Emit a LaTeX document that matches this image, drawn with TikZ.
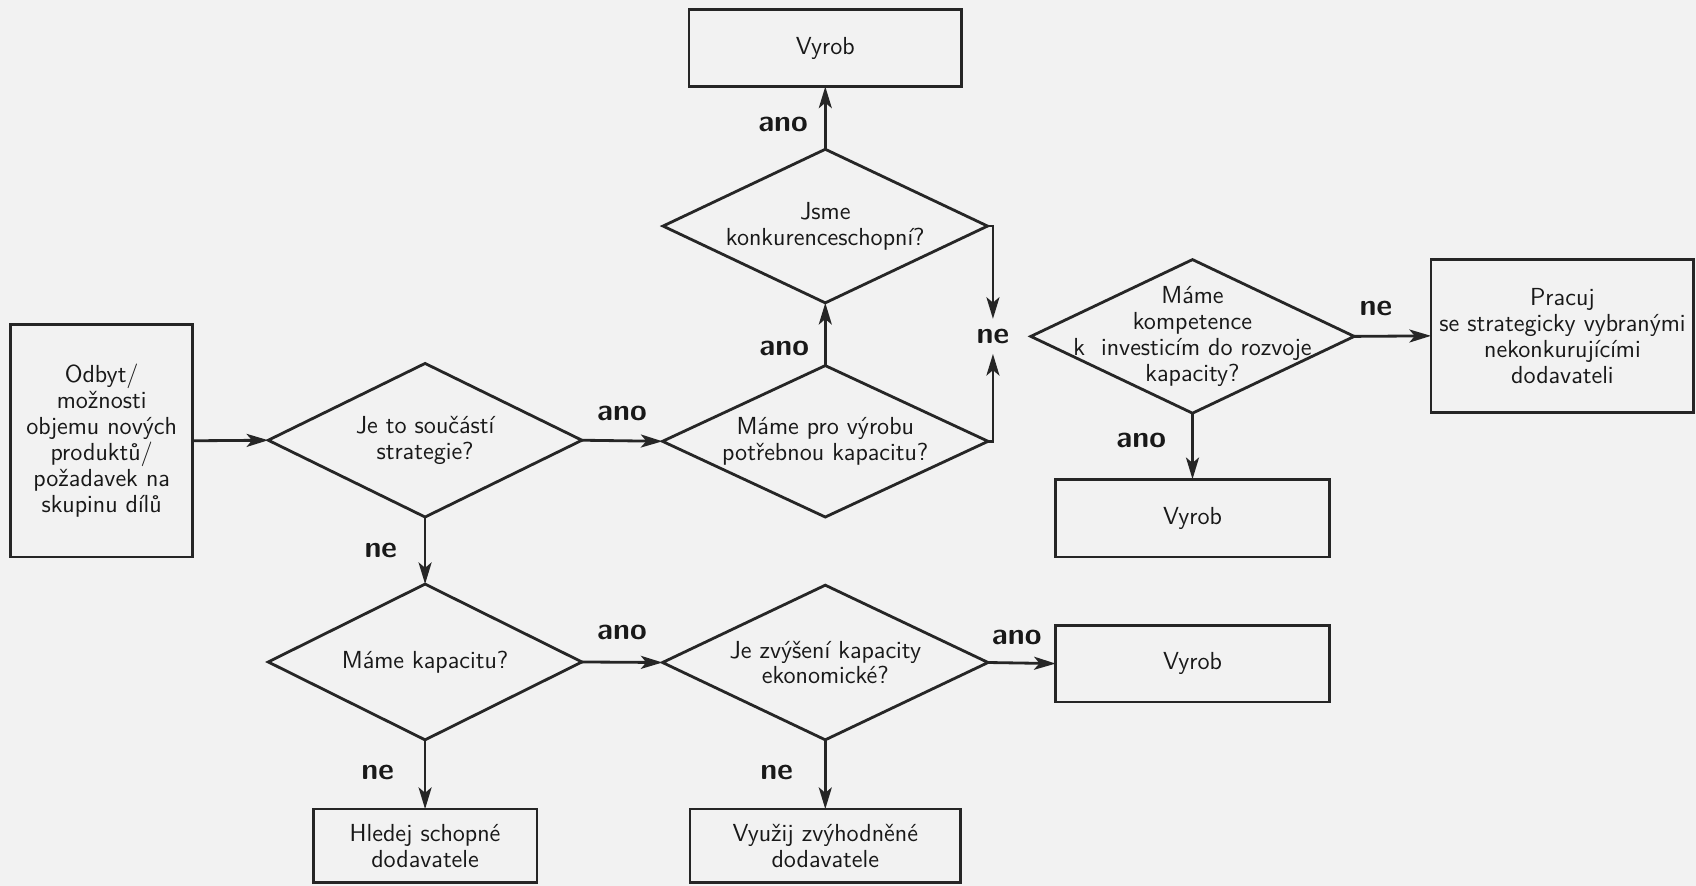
\documentclass[tikz,border=0pt]{standalone}
\usetikzlibrary{shapes.geometric,arrows.meta}
\newcommand\mytxt{\fontsize{11.4}{12}\sffamily\selectfont}
\newcommand\mylab{\fontsize{14}{15}\fontseries{bx}\sffamily\selectfont}
\begin{document}
\begin{tikzpicture}[x=0.5pt,y=-0.5pt,
  ln/.style={draw=black!85, line width=1.3pt},
  box/.style={ln, rectangle, inner sep=0pt, outer sep=0pt, align=center, font=\mytxt, text=black!90},
  dia/.style={ln, diamond, inner sep=0pt, outer sep=0pt},
  dtext/.style={align=center, font=\mytxt, inner sep=0pt, text=black!90},
  lab/.style={font=\mylab, inner sep=0pt, text=black!90},
  arr/.style={draw=black!85, line width=1.3pt, -{Stealth[length=10pt,width=6pt,inset=2.5pt]}}]
\fill[black!5] (0,0) rectangle (1568,819);
\useasboundingbox (0,0) rectangle (1568,819);

% boxes
\node[box, minimum width=84pt, minimum height=107.5pt] (src) at (94,407.5)
  {Odbyt/\\možnosti\\objemu nových\\produktů/\\požadavek na\\skupinu dílů};
\node[box, minimum width=126pt, minimum height=35.5pt] (vyrob1) at (763,44.5) {Vyrob};
\node[box, minimum width=121.5pt, minimum height=70.5pt] (pracuj) at (1444.5,310.5)
  {Pracuj\\se strategicky vybranými\\nekonkurujícími\\dodavateli};
\node[box, minimum width=126.5pt, minimum height=36pt] (vyrob2) at (1102.5,479) {Vyrob};
\node[box, minimum width=126.5pt, minimum height=35.5pt] (vyrob3) at (1102.5,613.5) {Vyrob};
\node[box, minimum width=103.5pt, minimum height=34pt] (hledej) at (393,782) {Hledej schopné\\dodavatele};
\node[box, minimum width=125pt, minimum height=34pt] (vyuzij) at (763,782) {Využij zvýhodněné\\dodavatele};

% diamonds
\node[dia, minimum width=145pt, minimum height=71pt] (d1) at (393,407) {};
\node[dtext] (d1t) at (d1) {Je to součástí\\strategie?};
\node[dia, minimum width=150.5pt, minimum height=70pt] (dkap) at (763,408) {};
\node[dtext] (dkapt) at (dkap) {Máme pro výrobu\\potřebnou kapacitu?};
\node[dia, minimum width=150pt, minimum height=71pt] (djsme) at (763,209) {};
\node[dtext] (djsmet) at (djsme) {Jsme\\konkurenceschopní?};
\node[dia, minimum width=149.5pt, minimum height=71pt] (dkomp) at (1102.5,311) {};
\node[dtext] (dkompt) at (dkomp) {Máme\\kompetence\\k\ \ investicím do rozvoje\\kapacity?};
\node[dia, minimum width=145pt, minimum height=72pt] (dmk) at (393,612) {};
\node[dtext] (dmkt) at (dmk) {Máme kapacitu?};
\node[dia, minimum width=150.5pt, minimum height=71.5pt] (dzv) at (763,612.5) {};
\node[dtext] (dzvt) at (dzv) {Je zvýšení kapacity\\ekonomické?};

% junction label
\node[lab, inner ysep=4.5pt] (ne) at (918,311) {ne};

% connectors
\draw[arr] (src.east) -- (d1.west);
\draw[arr] (d1.east) -- (dkap.west);
\draw[arr] (dkap.north) -- (djsme.south);
\draw[arr] (djsme.north) -- (vyrob1.south);
\draw[arr] (djsme.east) -| (ne.north);
\draw[arr] (dkap.east) -| (ne.south);
\draw[arr] (dkomp.east) -- (pracuj.west);
\draw[arr] (dkomp.south) -- (vyrob2.north);
\draw[arr] (d1.south) -- (dmk.north);
\draw[arr] (dmk.east) -- (dzv.west);
\draw[arr] (dzv.east) -- (vyrob3.west);
\draw[arr] (dmk.south) -- (hledej.north);
\draw[arr] (dzv.south) -- (vyuzij.north);

% labels
\node[lab] (l1) at (575,382) {ano};
\node[lab] (l2) at (725,322) {ano};
\node[lab] (l3) at (724,115) {ano};
\node[lab] (l4) at (1272,285) {ne};
\node[lab] (l5) at (1055,407) {ano};
\node[lab] (l6) at (352,509) {ne};
\node[lab] (l7) at (575,585) {ano};
\node[lab] (l8) at (940,589) {ano};
\node[lab] (l9) at (349,714) {ne};
\node[lab] (l10) at (718,714) {ne};
\end{tikzpicture}
\end{document}
